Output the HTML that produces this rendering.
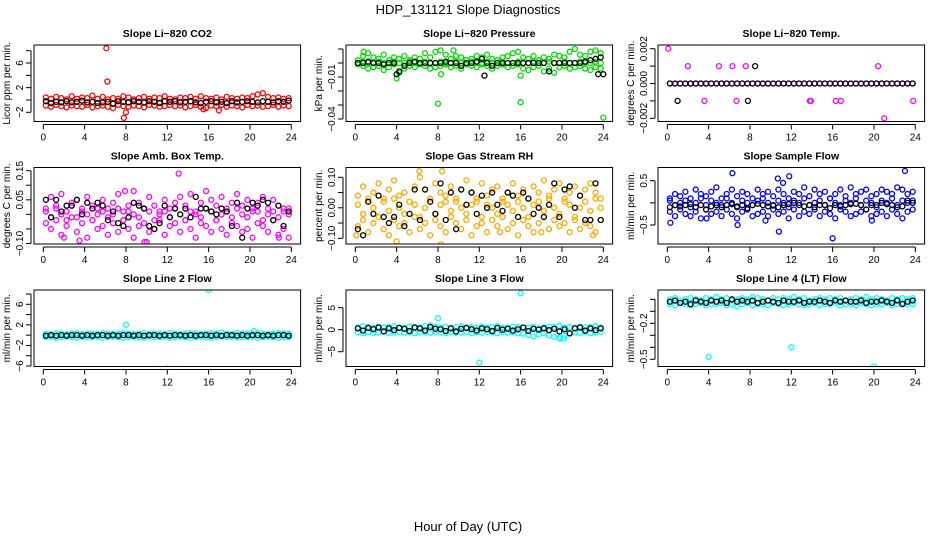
<!DOCTYPE html>
<html><head><meta charset="utf-8">
<style>
html,body{margin:0;padding:0;background:#fff;}
svg{display:block;font-family:"Liberation Sans",sans-serif;}
</style></head>
<body>
<svg id="chart" width="936" height="540" viewBox="0 0 936 540" xmlns="http://www.w3.org/2000/svg">
<text x="468" y="14" text-anchor="middle" font-size="13">HDP_131121  Slope Diagnostics</text>
<text x="468" y="531" text-anchor="middle" font-size="13">Hour of Day (UTC)</text>
</svg>
<script>
const hours=[0.25,0.75,1.25,1.75,2.25,2.75,3.25,3.75,4.25,4.75,5.25,5.75,6.25,6.75,7.25,7.75,8.25,8.75,9.25,9.75,10.25,10.75,11.25,11.75,12.25,12.75,13.25,13.75,14.25,14.75,15.25,15.75,16.25,16.75,17.25,17.75,18.25,18.75,19.25,19.75,20.25,20.75,21.25,21.75,22.25,22.75,23.25,23.75];
const xTicks=[0,4,8,12,16,20,24];

const co2Hi=[0.4,0.2,0.5,0.3,0.1,0.6,0.2,0.4,0.3,0.7,0.2,0.5,0.1,0.3,0.2,0.6,0.4,0.1,0.3,0.5,0.2,0.4,0.3,0.6,0.2,0.1,0.4,0.3,0.5,0.2,0.6,0.3,0.2,0.4,0.1,0.5,0.3,0.2,0.4,0.3,0.6,0.9,1.1,0.5,0.3,0.4,0.2,0.3];
const co2Lo=[-0.9,-1.1,-0.8,-1.0,-1.2,-0.9,-1.0,-1.1,-0.8,-1.2,-1.0,-0.9,-1.1,-1.3,-0.8,-1.0,-1.1,-0.9,-1.0,-1.2,-0.8,-0.9,-1.1,-1.0,-0.8,-1.0,-0.9,-1.2,-1.0,-0.8,-1.1,-1.3,-0.9,-1.0,-0.8,-1.1,-0.9,-1.0,-1.2,-0.8,-1.0,-0.9,-1.1,-1.0,-0.8,-1.1,-0.9,-1.0];
const co2Black=[-0.2,-0.5,-0.3,-0.4,-0.2,-0.4,-0.3,-0.1,-0.4,-0.3,-0.5,-0.4,-0.3,-0.6,-0.2,-0.3,-0.4,-0.2,-0.3,-0.4,-0.2,-0.3,-0.5,-0.2,-0.3,-0.2,-0.4,-0.3,-0.2,-0.4,-0.5,-0.3,-0.2,-0.4,-0.3,-0.5,-0.2,-0.4,-0.3,-0.2,-0.3,-0.4,-0.2,-0.3,-0.4,-0.2,-0.3,-0.1];
const co2Out=[[6.1,8.4],[6.2,3.0],[7.8,-2.9],[8.0,-2.0],[15.5,-1.5],[17,-1.7]];

const presHi=[0.002,0.005,0.007,0.004,0.003,0.006,0.002,0.004,0.003,0.005,0.002,0.004,0.003,0.007,0.004,0.008,0.009,0.006,0.003,0.005,0.004,0.002,0.003,0.005,0.004,0.006,0.003,0.002,0.004,0.005,0.007,0.008,0.004,0.003,0.005,0.002,0.004,0.003,0.006,0.005,0.004,0.008,0.010,0.006,0.005,0.008,0.009,0.007];
const presLo=[-0.001,-0.002,-0.004,-0.003,-0.002,-0.005,-0.003,-0.001,-0.007,-0.004,-0.002,-0.003,-0.001,-0.002,-0.004,-0.003,-0.002,-0.001,-0.003,-0.002,-0.004,-0.001,-0.002,-0.003,-0.001,-0.002,-0.004,-0.002,-0.001,-0.003,-0.002,-0.001,-0.004,-0.005,-0.003,-0.002,-0.006,-0.004,-0.007,-0.003,-0.002,-0.004,-0.003,-0.002,-0.004,-0.005,-0.003,-0.004];
const presMid=[0,0.001,0,0,0.001,0,0,0.001,0,0,0.001,0,0,0.001,0,0,0.001,0,0,0.001,0,0,0.001,0,0,0.001,0,0,0.001,0,0,0.001,0,0,0.001,0,0,0.001,0,0,0.001,0,0,0.001,0,0,0.001,0];
const presBlack=[0,0,0.001,0,0,-0.001,0,0,-0.006,-0.002,0,0.001,0,0,0,0,0,0.001,0,0,-0.002,0,0,0.001,0.003,0,-0.002,0,0,0,0,0,0,0,0,0,0,-0.006,0,0,0,0,0,0,0.001,0.002,0.003,0.004];
const presOut=[[8,-0.029],[16,-0.028],[24,-0.039],[4,-0.011],[8.3,-0.008],[16,-0.009],[0.8,0.008],[9.5,0.009]];
const presBlackOut=[[4,-0.008],[12.5,-0.009],[23.5,-0.008],[24,-0.008]];

const tempMag=[0,0,0,0,0,0,0,0,0,0,0,0,0,0,0,0,0,0,0,0,0,0,0,0,0,0,0,0,0,0,0,0,0,0,0,0,0,0,0,0,0,0,0,0,0,0,0,0];
const tempBlack=[0,0,0,0,0,0,0,0,0,0,0,0,0,0,0,0,0,0,0,0,0,0,0,0,0,0,0,0,0,0,0,0,0,0,0,0,0,0,0,0,0,0,0,0,0,0,0,0];
const tempOut=[[0.1,0.002],[2,0.001],[5,0.001],[6.3,0.001],[7.6,0.001],[20.4,0.001],[3.6,-0.001],[6.7,-0.001],[13.8,-0.001],[13.9,-0.001],[16.3,-0.001],[16.8,-0.001],[23.8,-0.001],[21,-0.002]];
const tempBlackOut=[[1,-0.001],[7.8,-0.001],[8.5,0.001]];

const ambHi=[0.02,0.06,0.03,0.07,0.01,0.04,0.05,0.02,0.06,0.03,0.00,0.05,0.02,0.04,0.07,0.01,0.03,0.08,0.04,0.02,0.06,0.03,0.01,0.05,0.02,0.04,0.06,0.03,0.07,0.01,0.04,0.08,0.05,0.03,0.06,0.02,0.04,0.07,0.03,0.05,0.01,0.04,0.06,0.02,0.05,0.03,0.01,0.02];
const ambMid=[0.01,-0.01,0.02,0.00,-0.02,0.03,-0.01,0.01,0.00,-0.02,0.02,0.01,-0.01,0.00,0.02,-0.02,0.01,0.00,-0.01,0.02,0.01,-0.02,0.00,0.01,-0.01,0.02,0.00,-0.02,0.01,0.00,-0.01,0.02,0.01,-0.02,0.00,0.01,-0.01,0.02,0.00,-0.01,0.02,0.01,-0.02,0.00,0.01,-0.01,0.02,0.00];
const ambLo=[-0.03,-0.05,-0.02,-0.07,-0.04,-0.01,-0.06,-0.03,-0.08,-0.02,-0.05,-0.04,-0.07,-0.03,-0.06,-0.02,-0.05,-0.08,-0.04,-0.03,-0.06,-0.05,-0.02,-0.07,-0.04,-0.03,-0.06,-0.02,-0.05,-0.08,-0.03,-0.04,-0.06,-0.02,-0.05,-0.07,-0.03,-0.04,-0.06,-0.05,-0.08,-0.03,-0.04,-0.06,-0.02,-0.07,-0.05,-0.08];
const ambBlack=[0.05,-0.01,0.05,0.01,0.03,0.03,0.05,0.00,0.04,0.02,0.04,0.03,-0.02,0.01,-0.03,-0.04,-0.01,0.04,0.03,0.02,-0.04,-0.05,-0.03,0.03,-0.01,0.02,0.00,0.02,-0.01,0.06,0.02,0.02,0.01,0.00,0.02,0.01,-0.04,0.04,-0.08,0.02,0.04,0.03,0.05,0.04,-0.02,0.03,-0.04,0.01];
const ambOut=[[13.1,0.14],[7.9,0.08],[9.8,-0.095],[2,-0.08],[3.5,-0.09],[22.8,-0.08],[10,-0.095]];

const rhHi=[0.04,0.07,0.02,0.05,0.08,0.03,0.06,0.09,0.04,0.05,0.02,0.07,0.10,0.06,0.03,0.08,0.05,0.04,0.07,0.02,0.06,0.09,0.05,0.03,0.08,0.04,0.06,0.07,0.02,0.05,0.08,0.04,0.06,0.03,0.07,0.05,0.09,0.04,0.06,0.08,0.03,0.05,0.07,0.04,0.06,0.08,0.05,0.03];
const rhMid=[0.01,-0.02,0.03,0.00,-0.03,0.02,-0.01,0.03,0.00,-0.02,0.02,0.01,-0.03,0.00,0.03,-0.02,0.01,0.02,-0.01,0.03,0.00,-0.02,0.01,0.02,-0.03,0.01,0.00,-0.02,0.03,0.01,-0.01,0.02,0.00,-0.03,0.01,0.02,-0.01,0.03,0.00,-0.02,0.02,0.01,-0.03,0.00,0.02,-0.01,0.03,0.00];
const rhLo=[-0.06,-0.04,-0.08,-0.05,-0.03,-0.07,-0.09,-0.04,-0.06,-0.05,-0.08,-0.03,-0.07,-0.05,-0.09,-0.04,-0.06,-0.08,-0.03,-0.05,-0.07,-0.04,-0.09,-0.06,-0.05,-0.08,-0.04,-0.06,-0.03,-0.07,-0.05,-0.09,-0.04,-0.06,-0.08,-0.05,-0.03,-0.07,-0.04,-0.06,-0.05,-0.08,-0.04,-0.07,-0.05,-0.06,-0.08,-0.04];
const rhBlack=[-0.07,-0.09,0.02,-0.02,0.04,-0.03,-0.05,-0.03,0.01,-0.06,-0.02,0.06,-0.04,0.06,0.02,-0.02,0.08,-0.04,0.05,-0.07,0.06,0.01,0.05,-0.02,0.04,0.00,0.05,0.01,-0.01,0.05,0.04,-0.03,0.05,0.03,-0.02,0.00,-0.03,0.01,0.08,-0.03,0.06,0.07,0.00,0.04,-0.04,-0.04,0.08,-0.04];
const rhOut=[[6.2,0.12],[8.4,0.12],[8.3,-0.12],[4,-0.11],[0.1,-0.09],[14,-0.08],[18,-0.08],[23,-0.09]];

const flowHi=[0.1,0.2,0.15,0.25,0.1,0.3,0.2,0.15,0.25,0.35,0.1,0.2,0.3,0.15,0.25,0.2,0.1,0.3,0.2,0.25,0.15,0.3,0.2,0.1,0.25,0.2,0.35,0.15,0.3,0.2,0.25,0.1,0.2,0.3,0.15,0.35,0.2,0.25,0.3,0.15,0.2,0.3,0.25,0.2,0.35,0.3,0.2,0.25];
const flowMid=[0.05,-0.05,0.0,0.05,-0.1,0.0,0.1,-0.05,0.05,0.0,-0.05,0.1,0.0,-0.1,0.05,0.0,-0.05,0.05,0.1,0.0,-0.05,0.05,0.0,-0.1,0.05,0.0,0.1,-0.05,0.0,0.05,-0.05,0.1,0.0,-0.05,0.05,0.0,0.1,-0.05,0.05,0.0,-0.1,0.05,0.0,0.1,-0.05,0.05,0.0,0.05];
const flowLo=[-0.2,-0.3,-0.15,-0.25,-0.3,-0.2,-0.35,-0.15,-0.25,-0.2,-0.3,-0.15,-0.25,-0.35,-0.2,-0.15,-0.3,-0.25,-0.2,-0.3,-0.15,-0.25,-0.2,-0.35,-0.15,-0.3,-0.2,-0.25,-0.15,-0.3,-0.2,-0.25,-0.35,-0.15,-0.2,-0.3,-0.25,-0.2,-0.15,-0.3,-0.25,-0.2,-0.3,-0.15,-0.25,-0.35,-0.2,-0.15];
const flowBlack=[-0.1,-0.05,-0.08,-0.05,-0.03,-0.1,-0.05,-0.15,-0.08,-0.05,-0.1,-0.05,-0.03,-0.08,-0.05,-0.12,-0.05,-0.02,-0.05,-0.08,-0.06,-0.1,-0.05,-0.03,0.0,-0.05,-0.08,-0.05,-0.1,-0.05,-0.05,-0.12,-0.05,-0.08,-0.05,-0.03,-0.02,-0.05,-0.15,-0.05,-0.05,0.0,-0.03,-0.05,-0.1,-0.08,0.05,0.0];
const flowOut=[[6.3,0.67],[10.7,0.55],[11.2,0.45],[11.8,0.6],[23,0.72],[16,-0.8],[10.8,-0.65],[0.3,-0.45],[3.8,-0.35],[9.5,-0.4],[6.8,-0.5],[19.8,-0.4]];

const l2Hi=[0.3,0.2,0.4,0.3,0.2,0.3,0.4,0.2,0.3,0.3,0.2,0.4,0.3,0.2,0.3,0.4,0.3,0.2,0.3,0.4,0.2,0.3,0.3,0.2,0.4,0.3,0.2,0.3,0.4,0.3,0.2,0.3,0.4,0.3,0.5,0.3,0.2,0.4,0.3,0.3,0.2,0.4,0.3,0.2,0.3,0.4,0.3,0.3];
const l2Lo=[-0.4,-0.3,-0.5,-0.4,-0.3,-0.4,-0.5,-0.3,-0.4,-0.4,-0.3,-0.5,-0.4,-0.3,-0.4,-0.5,-0.4,-0.3,-0.4,-0.5,-0.3,-0.4,-0.4,-0.3,-0.5,-0.4,-0.3,-0.4,-0.5,-0.4,-0.3,-0.4,-0.5,-0.4,-0.3,-0.4,-0.3,-0.5,-0.4,-0.4,-0.3,-0.5,-0.4,-0.3,-0.4,-0.5,-0.4,-0.4];
const l2Black=[-0.1,0,-0.1,0,-0.1,0,0,-0.1,0,-0.1,0,0,-0.1,0,-0.1,0,0,-0.1,0,-0.1,0,0,-0.1,0,-0.1,0,0,-0.1,0,-0.1,0,0,-0.1,0,-0.1,0,0,-0.1,0,-0.1,0,0,-0.1,0,-0.1,0,0,-0.1];
const l2Out=[[8,2],[12,-6.5],[16,8.8],[20.4,0.8]];

const l3Hi=[0.5,0.8,0.6,0.4,0.7,0.5,0.6,0.8,0.5,0.4,0.7,0.6,0.5,0.8,1.0,0.6,0.5,0.7,0.4,0.6,0.8,0.5,0.6,0.4,0.7,0.5,0.6,0.8,0.4,0.5,0.7,0.6,0.5,0.4,0.6,0.3,0.5,0.7,0.6,0.9,0.5,0.6,0.4,0.7,0.5,0.6,0.8,0.5];
const l3Lo=[-0.6,-0.8,-0.5,-0.7,-0.6,-0.4,-0.8,-0.6,-0.5,-0.7,-0.6,-0.8,-0.5,-0.6,-0.7,-0.4,-0.6,-0.8,-0.5,-0.7,-0.6,-0.5,-0.8,-0.6,-0.7,-0.5,-0.6,-0.8,-0.5,-0.7,-0.6,-0.8,-0.9,-1.2,-1.5,-1.0,-0.8,-1.3,-1.6,-1.8,-1.4,-0.9,-0.6,-0.7,-0.5,-0.8,-0.6,-0.5];
const l3Black=[0.3,-0.2,0.4,0.1,0.5,-0.4,0.3,-0.1,0.4,0.2,-0.3,0.5,0.3,-0.2,0.6,0.2,0.1,-0.3,0.3,-0.4,0.2,0.4,0.1,-0.2,0.3,0.1,-0.3,0.4,0.0,0.2,-0.2,0.1,0.5,-0.3,0.2,0.0,0.3,-0.1,0.2,-0.4,0.1,-0.8,0.3,0.5,-0.2,0.3,-0.1,0.3];
const l3Out=[[8,2.6],[12,-7.5],[16,8.3],[19.8,-2],[20.2,-2]];

const l4Hi=[0.0,0.01,-0.01,0.0,0.01,0.0,-0.01,0.01,0.0,0.02,0.0,0.01,-0.01,0.0,0.01,0.0,0.02,0.01,0.0,-0.01,0.01,0.0,0.01,0.0,0.02,0.0,0.01,-0.01,0.0,0.01,0.0,0.01,0.0,0.01,-0.01,0.0,0.01,0.0,0.02,0.0,0.01,0.0,-0.01,0.01,0.0,0.01,0.0,0.01];
const l4Lo=[-0.04,-0.05,-0.03,-0.04,-0.05,-0.04,-0.03,-0.05,-0.04,-0.04,-0.03,-0.05,-0.04,-0.06,-0.04,-0.03,-0.05,-0.04,-0.04,-0.05,-0.03,-0.04,-0.05,-0.04,-0.03,-0.04,-0.05,-0.04,-0.03,-0.05,-0.04,-0.04,-0.03,-0.05,-0.04,-0.04,-0.05,-0.03,-0.04,-0.05,-0.04,-0.04,-0.03,-0.05,-0.04,-0.03,-0.04,-0.04];
const l4Black=[-0.02,-0.01,-0.03,-0.02,-0.04,-0.01,-0.02,-0.03,-0.01,-0.02,-0.01,-0.03,0.0,-0.02,-0.01,-0.02,-0.01,-0.03,-0.02,-0.01,-0.02,-0.03,-0.01,-0.02,-0.02,-0.01,-0.03,-0.02,-0.02,-0.01,-0.02,-0.03,-0.01,-0.02,-0.01,-0.02,-0.02,-0.01,-0.03,-0.02,-0.02,-0.01,-0.02,-0.03,-0.01,-0.04,-0.02,-0.01];
const l4Out=[[4,-0.48],[12,-0.40],[20,-0.56]];

const panels=[
 {key:'co2',title:'Slope Li\u2212820 CO2',ylab:'Licor ppm per min.',col:0,row:0,a:[6,-2],yt:[-2,0,2,4,6,8],yl:['\u22122','2','6'],ylv:[-2,2,6],cols:[['#ff0000',co2Hi],['#ff0000',co2Lo]],blk:co2Black,out:[['#ff0000',co2Out]]},
 {key:'pressure',title:'Slope Li\u2212820 Pressure',ylab:'kPa per min.',col:1,row:0,a:[-0.01,-0.04],yt:[-0.04,-0.03,-0.02,-0.01,0,0.01],yl:['\u22120.04','\u22120.01'],ylv:[-0.04,-0.01],cols:[['#00dd00',presHi],['#00dd00',presLo],['#00dd00',presMid]],blk:presBlack,out:[['#00dd00',presOut],['#000',presBlackOut]]},
 {key:'temp',title:'Slope Li\u2212820 Temp.',ylab:'degrees C per min.',col:2,row:0,a:[0.002,-0.002],yt:[-0.002,-0.001,0,0.001,0.002],yl:['\u22120.002','0.000','0.002'],ylv:[-0.002,0,0.002],cols:[['#ff00ff',tempMag]],blk:tempBlack,out:[['#ff00ff',tempOut],['#000',tempBlackOut]]},
 {key:'ambient',title:'Slope Amb. Box Temp.',ylab:'degrees C per min.',col:0,row:1,a:[0.15,-0.10],yt:[-0.10,-0.05,0,0.05,0.10,0.15],yl:['\u22120.10','0.05','0.15'],ylv:[-0.10,0.05,0.15],cols:[['#ff00ff',ambHi],['#ff00ff',ambMid],['#ff00ff',ambLo]],blk:ambBlack,out:[['#ff00ff',ambOut]]},
 {key:'rh',title:'Slope Gas Stream RH',ylab:'percent per min.',col:1,row:1,a:[0.10,-0.10],yt:[-0.10,-0.05,0,0.05,0.10],yl:['\u22120.10','0.00','0.10'],ylv:[-0.10,0,0.10],cols:[['#ffa500',rhHi],['#ff3000',rhMid],['#ffa500',rhLo],['#ffc000',rhMid]],blk:rhBlack,out:[['#ffa500',rhOut]]},
 {key:'sample-flow',title:'Slope Sample Flow',ylab:'ml/min per min.',col:2,row:1,a:[0.5,-0.5],yt:[-0.5,0,0.5],yl:['\u22120.5','0.5'],ylv:[-0.5,0.5],cols:[['#0000ff',flowHi],['#0000ff',flowMid],['#0000ff',flowLo]],blk:flowBlack,out:[['#0000ff',flowOut]]},
 {key:'line2',title:'Slope Line 2 Flow',ylab:'ml/min per min.',col:0,row:2,a:[6,-6],yt:[-6,-4,-2,0,2,4,6,8],yl:['\u22126','\u22122','2','6'],ylv:[-6,-2,2,6],cols:[['#00ffff',l2Hi],['#00ffff',l2Lo]],blk:l2Black,out:[['#00ffff',l2Out]]},
 {key:'line3',title:'Slope Line 3 Flow',ylab:'ml/min per min.',col:1,row:2,a:[5,-5],yt:[-5,0,5],yl:['\u22125','0','5'],ylv:[-5,0,5],cols:[['#00ffff',l3Hi],['#00ffff',l3Lo]],blk:l3Black,out:[['#00ffff',l3Out]]},
 {key:'line4',title:'Slope Line 4 (LT) Flow',ylab:'ml/min per min.',col:2,row:2,a:[-0.2,-0.5],yt:[-0.5,-0.4,-0.3,-0.2,-0.1,0],yl:['\u22120.5','\u22120.2'],ylv:[-0.5,-0.2],cols:[['#00ffff',l4Hi],['#00ffff',l4Lo]],blk:l4Black,out:[['#00ffff',l4Out]]}
];

const NS='http://www.w3.org/2000/svg';
const svg=document.getElementById('chart');
const colX0=[43.3,355.3,667.3];
const rowTop=[45,167.5,290];
const rowAnchorPx=[[63,112.3],[77,119],[48.7,118.3],[170.7,243.5],[177.3,238.3],[180.7,225],[304.3,366],[307.7,351.7],[323.3,359.3]];
function el(tag,attrs,parent){const e=document.createElementNS(NS,tag);for(const k in attrs)e.setAttribute(k,attrs[k]);(parent||svg).appendChild(e);return e;}

panels.forEach((p,pi)=>{
  const g=el('g',{});
  
  
  const x0=colX0[p.col], top=rowTop[p.row], bot=top+76.5;
  const left=x0-9.3, right=x0+248+9.3;
  const xs=h=>x0+h*(248/24);
  const [pa,pb]=rowAnchorPx[pi];
  const ys=v=>pa+(v-p.a[0])*(pb-pa)/(p.a[1]-p.a[0]);
  const clip=el('clipPath',{id:'clip'+pi},g);
  el('rect',{x:left,y:top,width:right-left,height:bot-top},clip);
  const marks=el('g',{'clip-path':'url(#clip'+pi+')'},g);
  
  
  function dot(x,y,c,name){
    const cEl=el('circle',{cx:xs(x),cy:ys(y),r:2.5,fill:'none',stroke:c,'stroke-width':1.3},marks);
    
    
  }
  p.cols.forEach(([c,arr])=>arr.forEach((v,i)=>dot(hours[i],v,c,'point')));
  p.out.forEach(([c,arr])=>{ if(c!=='#000') arr.forEach(([x,y])=>dot(x,y,c,'outlier-point')); });
  p.blk.forEach((v,i)=>dot(hours[i],v,'#000','reference-point'));
  p.out.forEach(([c,arr])=>{ if(c==='#000') arr.forEach(([x,y])=>dot(x,y,c,'reference-outlier')); });
  const box=el('rect',{x:left,y:top,width:right-left,height:bot-top,fill:'none',stroke:'#000','stroke-width':1},g);
  
  
  const t=el('text',{x:(left+right)/2,y:top-8,'text-anchor':'middle','font-size':10.5,'font-weight':'bold'},g);
  t.textContent=p.title;
  
  
  el('line',{x1:xs(0),x2:xs(24),y1:bot+3,y2:bot+3,stroke:'#000','stroke-width':1},g);
  xTicks.forEach(h=>{
    el('line',{x1:xs(h),x2:xs(h),y1:bot+3,y2:bot+8,stroke:'#000','stroke-width':1},g);
    const tl=el('text',{x:xs(h),y:bot+19,'text-anchor':'middle','font-size':10},g);
    tl.textContent=h;
    
    
  });
  const yMin=Math.min(...p.yt), yMax=Math.max(...p.yt);
  el('line',{x1:left-3,x2:left-3,y1:ys(yMin),y2:ys(yMax),stroke:'#000','stroke-width':1},g);
  p.yt.forEach(v=>el('line',{x1:left-8,x2:left-3,y1:ys(v),y2:ys(v),stroke:'#000','stroke-width':1},g));
  p.ylv.forEach((v,i)=>{
    const yy=ys(v), xx=left-11;
    const tl=el('text',{x:xx,y:yy,'text-anchor':'middle','font-size':10,transform:`rotate(-90 ${xx} ${yy})`},g);
    tl.textContent=p.yl[i];
    
    
  });
  const lx=left-24, ly=(top+bot)/2;
  const yl=el('text',{x:lx,y:ly,'text-anchor':'middle','font-size':10,transform:`rotate(-90 ${lx} ${ly})`},g);
  yl.textContent=p.ylab;
  
  
});
</script>
</body></html>
